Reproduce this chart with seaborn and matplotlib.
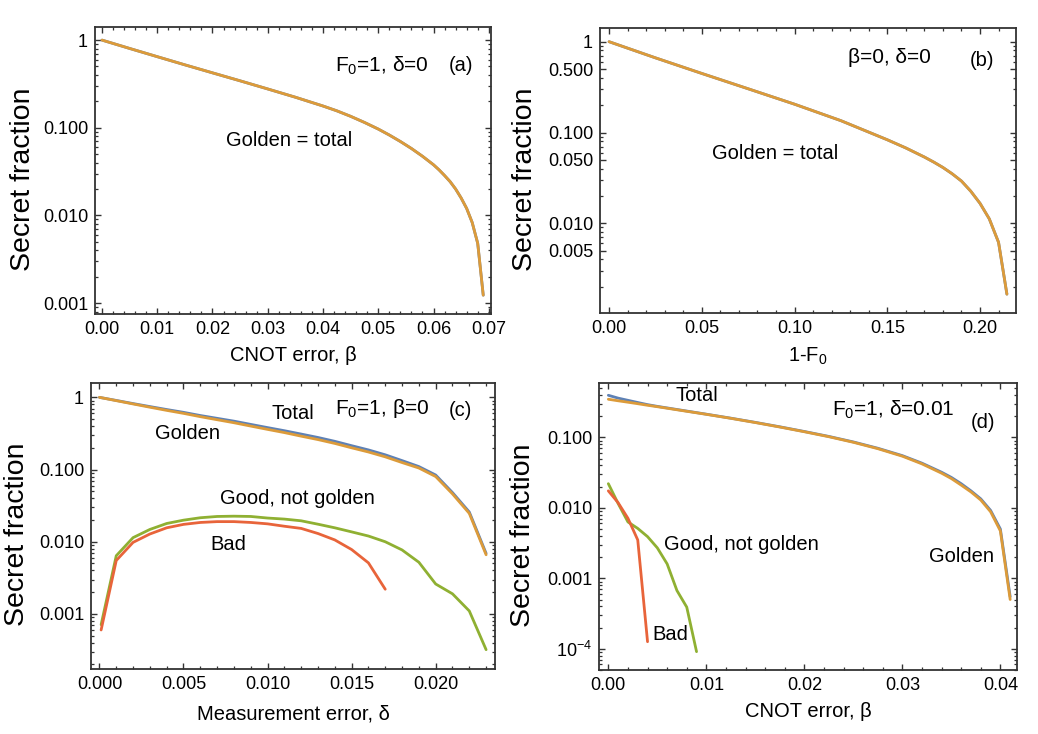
import numpy as np
import pandas as pd
import matplotlib
matplotlib.use("Agg")
import matplotlib.pyplot as plt
import seaborn as sns
from matplotlib.ticker import FixedLocator, FixedFormatter, LogLocator, NullFormatter, MultipleLocator

# ---------------- data ----------------
# (a) F0=1, delta=0 ; x = CNOT error beta
a_x = [0.000, 0.005, 0.010, 0.015, 0.020, 0.025, 0.030, 0.035, 0.040, 0.0425,
       0.045, 0.0475, 0.050, 0.052, 0.054, 0.056, 0.058, 0.060, 0.061, 0.062,
       0.063, 0.064, 0.065, 0.066, 0.067, 0.068, 0.069]
a_total = [1.0, 0.803, 0.647, 0.522, 0.423, 0.343, 0.277, 0.223, 0.177, 0.156,
           0.135, 0.115, 0.0966, 0.0826, 0.0697, 0.058, 0.0473, 0.0378, 0.0331, 0.0285,
           0.0243, 0.020, 0.0158, 0.0120, 0.0083, 0.0048, 0.00123]
a_golden = [1.0, 0.803, 0.647, 0.522, 0.423, 0.343, 0.277, 0.223, 0.177, 0.156,
            0.135, 0.115, 0.0966, 0.0826, 0.0697, 0.058, 0.0473, 0.0378, 0.0331, 0.0285,
            0.0243, 0.020, 0.0158, 0.0120, 0.0083, 0.0048, 0.00123]

# (b) beta=0, delta=0 ; x = 1-F0
b_x = [0.000, 0.025, 0.050, 0.075, 0.100, 0.125, 0.150, 0.160, 0.170, 0.175,
       0.180, 0.185, 0.190, 0.195, 0.200, 0.205, 0.210, 0.2145]
b_total = [1.0, 0.664, 0.447, 0.303, 0.205, 0.135, 0.0832, 0.0676, 0.0537, 0.0473,
           0.0412, 0.0351, 0.0292, 0.0226, 0.0166, 0.0112, 0.00617, 0.00166]
b_golden = [1.0, 0.664, 0.447, 0.303, 0.205, 0.135, 0.0832, 0.0676, 0.0537, 0.0473,
            0.0412, 0.0351, 0.0292, 0.0226, 0.0166, 0.0112, 0.00617, 0.00166]

# (c) F0=1, beta=0 ; x = measurement error delta
c_x = [0.000, 0.001, 0.002, 0.003, 0.004, 0.005, 0.006, 0.007, 0.008, 0.009,
       0.010, 0.011, 0.012, 0.013, 0.014, 0.015, 0.016, 0.017, 0.018, 0.019,
       0.020, 0.021, 0.022, 0.023]
c_total = [1.0, 0.906, 0.82, 0.745, 0.678, 0.62, 0.56, 0.512, 0.468, 0.422,
           0.381, 0.345, 0.31, 0.278, 0.246, 0.214, 0.187, 0.16, 0.133, 0.11,
           0.084, 0.048, 0.0258, 0.0069]
c_golden = [1.0, 0.90, 0.81, 0.73, 0.66, 0.60, 0.54, 0.49, 0.445, 0.40,
            0.36, 0.325, 0.29, 0.26, 0.23, 0.20, 0.175, 0.15, 0.125, 0.105,
            0.08, 0.046, 0.0247, 0.0066]
c_good_x = [0.0001, 0.001, 0.002, 0.003, 0.004, 0.005, 0.006, 0.007, 0.008, 0.009,
            0.010, 0.011, 0.012, 0.013, 0.014, 0.015, 0.016, 0.017, 0.018, 0.019,
            0.020, 0.021, 0.022, 0.023]
c_good = [0.00071, 0.0064, 0.0114, 0.0148, 0.0179, 0.0199, 0.0215, 0.0224, 0.0226, 0.0224,
          0.0213, 0.0206, 0.0195, 0.0175, 0.0156, 0.0137, 0.012, 0.0100, 0.0077, 0.0052,
          0.0026, 0.0019, 0.0011, 0.00032]
c_bad_x = [0.0001, 0.001, 0.002, 0.003, 0.004, 0.005, 0.006, 0.007, 0.008, 0.009,
           0.010, 0.011, 0.012, 0.013, 0.014, 0.015, 0.016, 0.017]
c_bad = [0.0006, 0.0055, 0.0098, 0.0128, 0.0156, 0.0174, 0.0185, 0.019, 0.019, 0.0185,
         0.0177, 0.0164, 0.0153, 0.013, 0.0106, 0.0078, 0.0051, 0.0022]

# (d) F0=1, delta=0.01 ; x = CNOT error beta
d_x = [0.000, 0.001, 0.002, 0.003, 0.004, 0.005, 0.0075, 0.010, 0.0125, 0.015,
       0.0175, 0.020, 0.0225, 0.025, 0.0275, 0.030, 0.032, 0.034, 0.035, 0.036,
       0.037, 0.038, 0.039, 0.040, 0.041]
d_total = [0.395, 0.36, 0.335, 0.312, 0.291, 0.275, 0.242, 0.213, 0.187, 0.163,
           0.141, 0.121, 0.103, 0.086, 0.070, 0.055, 0.043, 0.032, 0.027, 0.022,
           0.0174, 0.0134, 0.0092, 0.0050, 0.00055]
d_golden = [0.347, 0.330, 0.315, 0.300, 0.285, 0.272, 0.240, 0.212, 0.186, 0.162,
            0.140, 0.120, 0.102, 0.085, 0.069, 0.054, 0.042, 0.031, 0.026, 0.021,
            0.0168, 0.0129, 0.0088, 0.0047, 0.0005]
d_good_x = [0.000, 0.001, 0.002, 0.003, 0.004, 0.005, 0.006, 0.007, 0.008, 0.009]
d_good = [0.022, 0.0115, 0.0063, 0.0051, 0.0039, 0.0027, 0.0016, 0.00067, 0.00039, 0.000091]
d_bad_x = [0.000, 0.001, 0.002, 0.003, 0.004]
d_bad = [0.0174, 0.0118, 0.0071, 0.0035, 0.000126]

# ---------------- style ----------------
sns.set_theme(style="ticks")
plt.rcParams["font.family"] = ["Liberation Sans", "DejaVu Sans"]
plt.rcParams["mathtext.default"] = "regular"
plt.rcParams["text.color"] = "black"
plt.rcParams["axes.labelcolor"] = "black"
plt.rcParams["xtick.labelcolor"] = "black"
plt.rcParams["ytick.labelcolor"] = "black"

C_TOTAL = "#5E81B5"
C_GOLD = "#DC9B3A"
C_GOOD = "#8FB032"
C_BAD = "#E8643A"
FRAME = "#333333"
LW = 2.0

fig = plt.figure(figsize=(10.38, 7.34), dpi=100)
axa = fig.add_axes([0.0915, 0.5722, 0.3815, 0.3910])
axb = fig.add_axes([0.5780, 0.5736, 0.4008, 0.3883])
axc = fig.add_axes([0.0877, 0.0886, 0.3892, 0.3896])
axd = fig.add_axes([0.5771, 0.0872, 0.4027, 0.3910])


def line(ax, x, y, color):
    df = pd.DataFrame({"x": x, "y": y})
    sns.lineplot(data=df, x="x", y="y", ax=ax, color=color, lw=LW,
                 estimator=None, sort=False, legend=False)


def style(ax, xlim, ylim, xmaj, xmin, xlabels, ymaj, ylabels, xlabel, xlabelpad):
    ax.set_yscale("log")
    ax.set_xlim(*xlim)
    ax.set_ylim(*ylim)
    ax.xaxis.set_major_locator(FixedLocator(xmaj))
    ax.xaxis.set_major_formatter(FixedFormatter(xlabels))
    ax.xaxis.set_minor_locator(MultipleLocator(xmin))
    ax.yaxis.set_major_locator(FixedLocator(ymaj))
    ax.yaxis.set_major_formatter(FixedFormatter(ylabels))
    ax.yaxis.set_minor_locator(LogLocator(base=10, subs=np.arange(2, 10), numticks=20))
    ax.yaxis.set_minor_formatter(NullFormatter())
    ax.tick_params(which="both", direction="in", top=True, right=True,
                   color=FRAME, labelsize=13, labelcolor="black", pad=5)
    ax.tick_params(which="major", length=4.5, width=1.0)
    ax.tick_params(which="minor", length=2.3, width=0.9)
    for s in ax.spines.values():
        s.set_color(FRAME)
        s.set_linewidth(1.3)
    ax.set_xlabel(xlabel, fontsize=14.5, labelpad=xlabelpad, color="black")
    ax.set_ylabel("Secret fraction", fontsize=20.5, color="black")
    ax.yaxis.set_label_coords(-0.15, 0.47)


def note(ax, x, y, s, size=14.5):
    ax.text(x, y, s, transform=ax.transAxes, fontsize=size,
            ha="center", va="center", color="black")


# (a)
line(axa, a_x, a_total, C_TOTAL)
line(axa, a_x, a_golden, C_GOLD)
style(axa, (-0.00127, 0.0704), (0.00075, 1.41),
      [0, 0.01, 0.02, 0.03, 0.04, 0.05, 0.06, 0.07], 0.002,
      ["0.00", "0.01", "0.02", "0.03", "0.04", "0.05", "0.06", "0.07"],
      [1, 0.1, 0.01, 0.001], ["1", "0.100", "0.010", "0.001"],
      "CNOT error, β", 6)
note(axa, 0.725, 0.865, "F$_0$=1, δ=0", 15)
note(axa, 0.925, 0.865, "(a)")
note(axa, 0.49, 0.605, "Golden = total")

# (b)
line(axb, b_x, b_total, C_TOTAL)
line(axb, b_x, b_golden, C_GOLD)
style(axb, (-0.0049, 0.2194), (0.00103, 1.416),
      [0, 0.05, 0.10, 0.15, 0.20], 0.01,
      ["0.00", "0.05", "0.10", "0.15", "0.20"],
      [1, 0.5, 0.1, 0.05, 0.01, 0.005],
      ["1", "0.500", "0.100", "0.050", "0.010", "0.005"],
      "1-F$_0$", 6)
note(axb, 0.695, 0.895, "β=0, δ=0", 15)
note(axb, 0.918, 0.885, "(b)")
note(axb, 0.42, 0.56, "Golden = total")

# (c)
line(axc, c_x, c_total, C_TOTAL)
line(axc, c_x, c_golden, C_GOLD)
line(axc, c_good_x, c_good, C_GOOD)
line(axc, c_bad_x, c_bad, C_BAD)
style(axc, (-0.0005, 0.02353), (0.000173, 1.58),
      [0, 0.005, 0.010, 0.015, 0.020], 0.001,
      ["0.000", "0.005", "0.010", "0.015", "0.020"],
      [1, 0.1, 0.01, 0.001], ["1", "0.100", "0.010", "0.001"],
      "Measurement error, δ", 8)
note(axc, 0.72, 0.91, "F$_0$=1, β=0", 15)
note(axc, 0.915, 0.905, "(c)")
note(axc, 0.50, 0.895, "Total")
note(axc, 0.238, 0.825, "Golden")
note(axc, 0.51, 0.595, "Good, not golden")
note(axc, 0.34, 0.435, "Bad")

# (d)
line(axd, d_x, d_total, C_TOTAL)
line(axd, d_x, d_golden, C_GOLD)
line(axd, d_good_x, d_good, C_GOOD)
line(axd, d_bad_x, d_bad, C_BAD)
style(axd, (-0.00095, 0.0417), (5e-5, 0.59),
      [0, 0.01, 0.02, 0.03, 0.04], 0.002,
      ["0.00", "0.01", "0.02", "0.03", "0.04"],
      [0.1, 0.01, 0.001, 0.0001], ["0.100", "0.010", "0.001", "10$^{-4}$"],
      "CNOT error, β", 6)
note(axd, 0.705, 0.905, "F$_0$=1, δ=0.01", 15)
note(axd, 0.918, 0.862, "(d)")
note(axd, 0.235, 0.955, "Total")
note(axd, 0.34, 0.438, "Good, not golden")
note(axd, 0.868, 0.396, "Golden")
note(axd, 0.17, 0.125, "Bad")

fig.savefig("out.png", dpi=100)
